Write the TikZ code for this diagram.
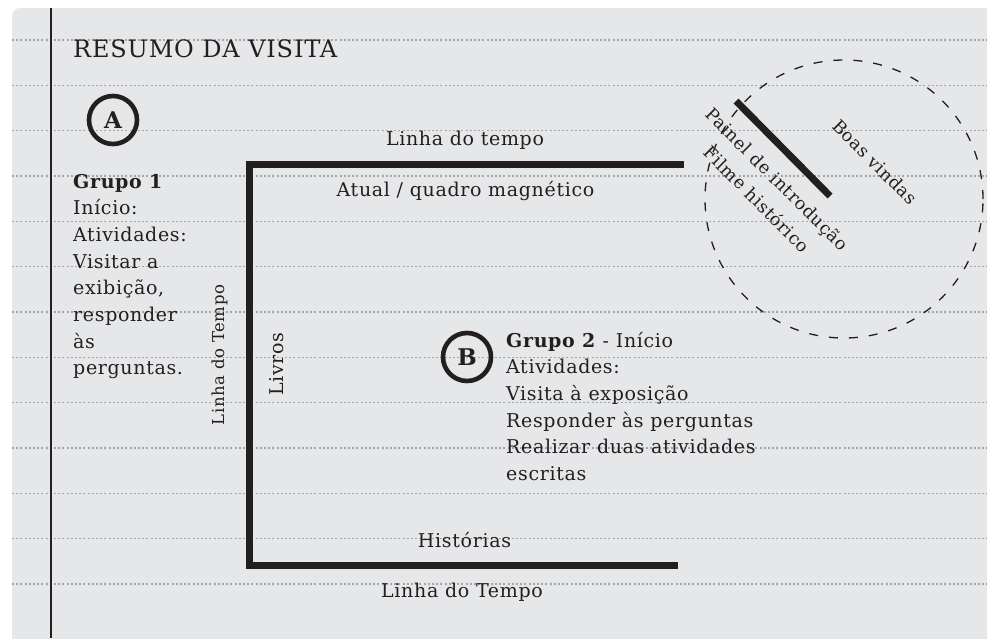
\documentclass[tikz,border=0pt]{standalone}
\usepackage{fontspec}
\setmainfont{DejaVu Serif}[LetterSpace=3.5]
\usetikzlibrary{positioning}

\definecolor{sheet}{HTML}{E6E7E8}
\definecolor{ink}{HTML}{231F20}
\definecolor{rule}{HTML}{A4A6A9}

\begin{document}
\begin{tikzpicture}[x=1pt, y=-1pt,
    every node/.style={inner sep=0pt, text=ink},
    body/.style={font=\fontsize{19}{26.7}\selectfont},
    small/.style={font=\fontsize{16.5}{22}\selectfont},
    tilted/.style={font=\fontsize{17.5}{27}\selectfont, rotate=-45},
    letter/.style={circle, draw=ink, line width=4.6pt, minimum size=48pt,
      font=\bfseries\fontsize{23}{23}\selectfont},
    wall/.style={draw=ink, line width=7pt},
    ruling/.style={draw=rule, line width=1.5pt, dash pattern=on 2pt off 2.2pt}]
    \useasboundingbox (0,0) rectangle (987,638);

    % Sheet
    \fill[sheet, rounded corners=8pt] (12,8) rectangle (1000,650);
    \foreach \k in {0,...,12}
      \draw[ruling] (12,{40+45.33*\k}) -- (987,{40+45.33*\k});
    \draw[ink, line width=1.2pt] (51,8) -- (51,638);
    \node[anchor=base west, font=\fontsize{24}{30}\selectfont] (title) at (73,57) {RESUMO DA VISITA};

    % Group 1 (anchored at the baseline of its last line)
    \node[letter] (markA) at (113,120) {A};
    \node[body, anchor=base west, align=left] (group1) at (73,374.9)
      {\textbf{Grupo 1}\\Início:\\Atividades:\\Visitar a\\exibição,\\responder\\às\\perguntas.};

    % Walls
    \coordinate (topEnd) at (684,164);
    \coordinate (topCorner) at (249.3,164);
    \coordinate (bottomCorner) at (249.3,565.7);
    \coordinate (bottomEnd) at (678,565.7);
    \draw[wall] (topEnd) -- (topCorner) -- (bottomCorner) -- (bottomEnd);
    \node[body, anchor=base] (timelineTop) at (465,145) {Linha do tempo};
    \node[body, anchor=base] (board) at (465.5,196) {Atual / quadro magnético};
    \node[body, anchor=base] (stories) at (464.5,547) {Histórias};
    \node[body, anchor=base] (timelineBottom) at (462,597) {Linha do Tempo};
    \node[small, anchor=base, rotate=90] (timelineSide) at (224,355) {Linha do Tempo};
    \node[body, anchor=base, rotate=90] (books) at (283,364) {Livros};

    % Entrance
    \node[circle, draw=ink, line width=1.3pt, dash pattern=on 9pt off 11pt,
      minimum size=278pt] (entrance) at (844,199) {};
    \coordinate (panelTop) at (736,101);
    \coordinate (panelBottom) at (830,196);
    \draw[wall] (panelTop) -- (panelBottom);
    \node[tilted] (panel) at (776,180) {Painel de introdução};
    \node[tilted] (film) at (757,199) {Filme histórico};
    \node[tilted] (welcome) at (875,162) {Boas vindas};

    % Group 2 (anchored at the baseline of its last line)
    \node[letter] (markB) at (467,357) {B};
    \node[body, anchor=base west, align=left] (group2) at (506,480.5)
      {\textbf{Grupo 2} - Início\\Atividades:\\Visita à exposição\\Responder às perguntas\\Realizar duas atividades\\escritas};
\end{tikzpicture}
\end{document}
